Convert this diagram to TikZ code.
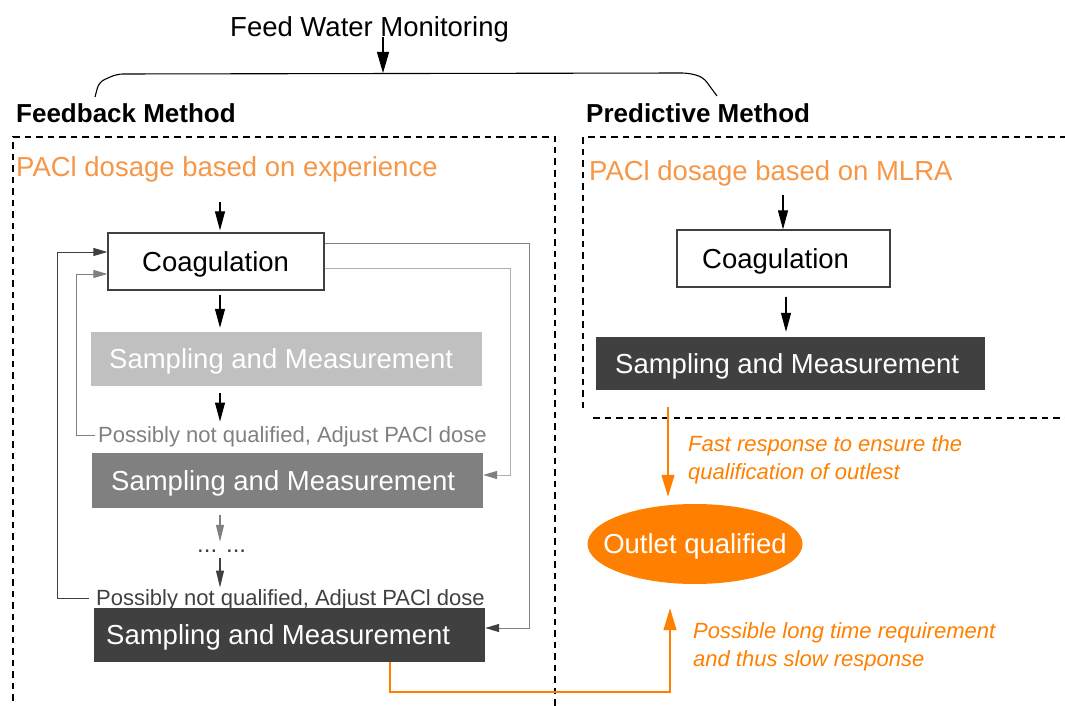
\documentclass[tikz,border=0pt]{standalone}
\usepackage{fontspec}
\setmainfont{Liberation Sans}
\usetikzlibrary{arrows.meta,shapes.geometric,calc}
\definecolor{ltorange}{RGB}{247,150,70}
\definecolor{dkorange}{RGB}{255,128,0}
\definecolor{gA}{RGB}{192,192,192}
\definecolor{gB}{RGB}{128,128,128}
\definecolor{gC}{RGB}{64,64,64}
\definecolor{gL}{RGB}{176,176,176}
\begin{document}
\begin{tikzpicture}[x=1pt,y=-1pt,
  bigtxt/.style={font=\fontsize{27.5pt}{33pt}\selectfont, inner sep=0pt, text height=22.5pt, text depth=3.5pt},
  smtxt/.style={font=\fontsize{22pt}{27pt}\selectfont, inner sep=0pt, text height=18pt, text depth=2.6pt},
  headtxt/.style={font=\fontsize{26pt}{31pt}\selectfont\bfseries, inner sep=0pt, text height=21.5pt, text depth=3pt},
  notetxt/.style={font=\fontsize{22pt}{28pt}\selectfont\itshape, text=dkorange, inner sep=0pt, align=left},
  cbox/.style={draw=gC, line width=1.2pt, fill=white, rectangle, inner sep=0pt},
  sbox/.style={rectangle, inner sep=0pt, draw=none},
  dbox/.style={draw=black, line width=1.3pt, dash pattern=on 6.5pt off 5pt},
  barr/.style={draw=black, line width=1.1pt, -{Triangle[length=19pt,width=10pt]}},
  garr/.style={line width=1.1pt, -{Triangle[length=17pt,width=8pt]}},
  oarr/.style={draw=dkorange, line width=1.2pt, -{Triangle[length=22pt,width=13pt]}},
]
\useasboundingbox (0,0) rectangle (1065,706);

% headings
\node[bigtxt, anchor=west] (feed) at (230,27) {Feed Water Monitoring};
\node[headtxt, anchor=west] (fbm) at (16,113) {Feedback Method};
\node[headtxt, anchor=west] (pdm) at (586,113) {Predictive Method};

% brace
\coordinate (bm) at (383,73);
\draw[line width=1.1pt, rounded corners=6pt] (95,97) -- (99,82) -- (117,74) -- (688,73) -- (703,77) -- (717,96);
\draw[draw=black, line width=1.1pt, shorten <=-3pt, -{Triangle[length=21pt,width=12pt]}] (feed.south -| bm) -- (bm);

% dashed frames
\draw[dbox] (13,712) -- (13,137) -- (555,137) -- (555,712);
\draw[dbox] (583,408) -- (583,137) -- (1070,137);
\draw[dbox] (593,418) -- (1070,418);

% left column
\node[bigtxt, anchor=west, text=ltorange] (pexp) at (16,167) {PACl dosage based on experience};
\node[cbox, minimum width=216pt, minimum height=57pt] (coag) at (216,261.5) {};
\node[bigtxt, anchor=west] (coagt) at (142,261.5) {Coagulation};
\node[sbox, fill=gA, minimum width=391pt, minimum height=54pt] (s1) at (286.5,359) {};
\node[bigtxt, anchor=west, text=white] (s1t) at (109,359) {Sampling and Measurement};
\node[smtxt, anchor=west, text=gB] (t1) at (98,435) {Possibly not qualified, Adjust PACl dose};
\node[sbox, fill=gB, minimum width=391pt, minimum height=55pt] (s2) at (287.5,480.5) {};
\node[bigtxt, anchor=west, text=white] (s2t) at (111,480.5) {Sampling and Measurement};
\node[font=\fontsize{24pt}{28pt}\selectfont, inner sep=0pt, text height=3pt, text depth=0pt, anchor=base west, text=gC] (dots) at (197,552) {... ...};
\node[smtxt, anchor=west, text=gC] (t2) at (96,598) {Possibly not qualified, Adjust PACl dose};
\node[sbox, fill=gC, minimum width=391pt, minimum height=54pt] (s3) at (289.5,635) {};
\node[bigtxt, anchor=west, text=white] (s3t) at (106,635) {Sampling and Measurement};

\coordinate (ax) at (220,0);
\draw[barr, shorten <=22pt, shorten >=2pt] (pexp.south -| ax) -- (coag.north -| ax);
\draw[barr, shorten <=4pt, shorten >=4pt] (coag.south -| ax) -- (s1.north -| ax);
\draw[barr, shorten <=7pt, shorten >=3pt] (s1.south -| ax) -- (t1.north -| ax);
\draw[garr, draw=gB, shorten <=7pt, shorten >=7pt] (s2.south -| ax) -- (dots.north -| ax);
\draw[garr, draw=gC, shorten <=6pt] (dots.south -| ax) -- (t2.north -| ax);

% feedback loops
\coordinate (olx) at (57,252);
\coordinate (ilx) at (76,274);
\coordinate (orx) at (529,243);
\coordinate (ory) at (529,628);
\coordinate (irx) at (510,268);
\coordinate (iry) at (510,475);
\draw[draw=gC, line width=1pt, -{Triangle[length=14pt,width=8pt]}, shorten <=7pt] (t2.west) -| (olx) -- (coag.west |- olx);
\draw[draw=gB, line width=1pt, -{Triangle[length=14pt,width=8pt]}, shorten <=3pt] (t1.west) -| (ilx) -- (coag.west |- ilx);
\draw[draw=gB, line width=1pt, -{Triangle[length=14pt,width=8pt,color=gC]}] (coag.east |- orx) -- (orx) -- (ory) -- (s3.east |- ory);
\draw[draw=gL, line width=1pt, -{Triangle[length=14pt,width=8pt,color=gB]}] (coag.east |- irx) -- (irx) -- (iry) -- (s2.east |- iry);

% right column
\node[bigtxt, anchor=west, text=ltorange] (pml) at (589,171) {PACl dosage based on MLRA};
\node[cbox, minimum width=213pt, minimum height=57pt] (rcoag) at (783.5,258.5) {};
\node[bigtxt, anchor=west] (rcoagt) at (702,258.5) {Coagulation};
\node[sbox, fill=gC, minimum width=389pt, minimum height=53pt] (rs) at (790.5,363.5) {};
\node[bigtxt, anchor=west, text=white] (rst) at (615,363.5) {Sampling and Measurement};
\node[ellipse, fill=dkorange, minimum width=215pt, minimum height=80pt, inner sep=0pt] (ell) at (695,544) {};
\node[bigtxt, text=white] (ellt) at (695,544) {Outlet qualified};

\coordinate (bx) at (783,0);
\coordinate (cx) at (786,0);
\draw[barr, shorten <=11pt] (pml.south -| bx) -- (rcoag.north -| bx);
\draw[barr, shorten <=9pt, shorten >=5pt] (rcoag.south -| cx) -- (rs.north -| cx);

% orange connectors
\coordinate (ox) at (668,0);
\coordinate (lx) at (390,692);
\coordinate (rc) at (670,692);
\draw[oarr, shorten <=17pt, shorten >=7pt] (rs.south -| ox) -- (ell.north -| ox);
\draw[oarr, shorten >=24pt] (s3.south -| lx) -- (lx) -- (rc) -- (ell.south -| rc);

\node[notetxt, anchor=west] (fast) at (688,460) {Fast response to ensure the\\qualification of outlest};
\node[notetxt, anchor=west] (slow) at (693,646.5) {Possible long time requirement\\and thus slow response};
\end{tikzpicture}
\end{document}
